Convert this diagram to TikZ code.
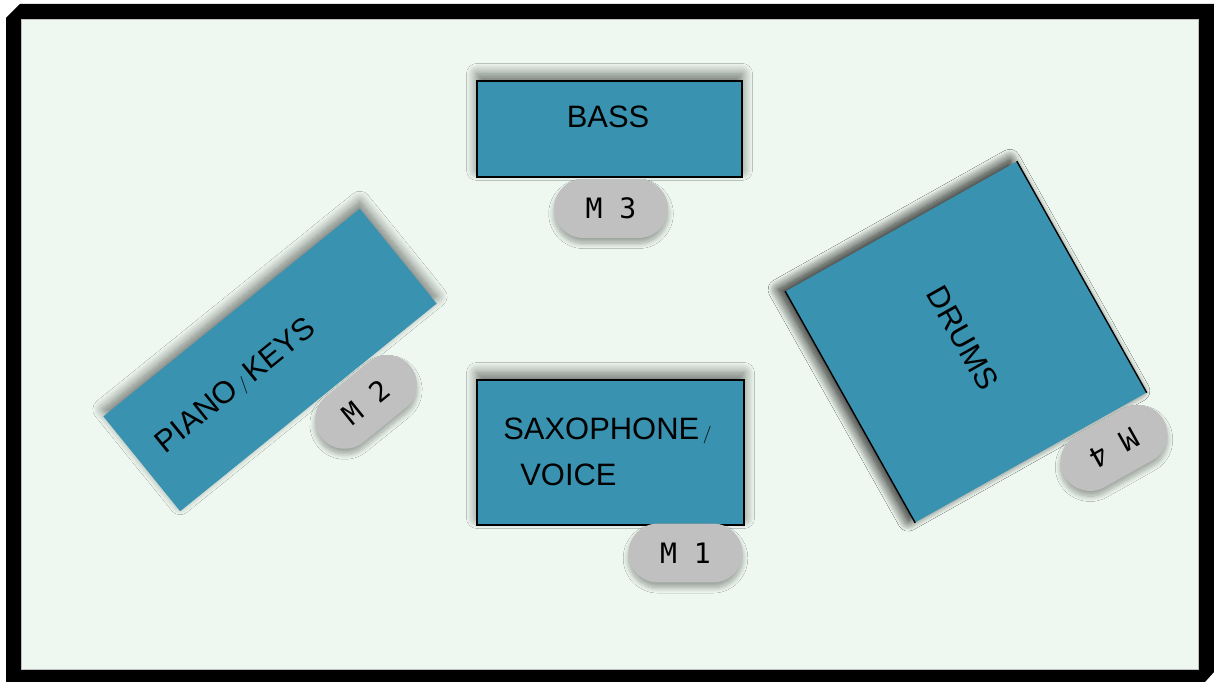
\documentclass[tikz,border=0pt]{standalone}
\usepackage{xcolor}
\usepackage{fontspec}
\setsansfont{Liberation Sans}
\newfontfamily\micfont{DejaVu Sans Mono}
\usepackage{tikz}
\usetikzlibrary{positioning, shapes, shadows.blur}
\definecolor{stageblue}{RGB}{57, 146, 176}
\definecolor{stagefloor}{RGB}{238, 248, 240}
\definecolor{micgray}{RGB}{192, 192, 192}
\newcommand{\thinslash}{\kern0.12em{\rmfamily\fontsize{10}{10}\selectfont/}\kern0.12em}

\tikzset{
  instrument/.style={fill=stageblue, inner sep=0pt,
    blur shadow={shadow xshift=0pt, shadow yshift=4pt, shadow blur radius=6pt, shadow blur steps=16, shadow opacity=55}},
  mic/.style={rounded rectangle, fill=micgray, minimum width=2.28cm, minimum height=1.18cm, inner sep=0pt,
    font=\micfont\fontsize{16}{16}\selectfont,
    blur shadow={shadow xshift=0pt, shadow yshift=-3pt, shadow blur radius=3pt, shadow blur steps=12, shadow opacity=35}},
  tag/.style={font=\sffamily\fontsize{17.6}{26}\selectfont, inner sep=0pt}
}

\begin{document}
\begin{tikzpicture}[x=0.02cm, y=-0.02cm]
\useasboundingbox (0,0) rectangle (1214,682);

% Draw the stage frame
\fill[black] (6,18) -- (20,4) -- (1214,4) -- (1214,672) -- (1205,682) -- (6,682) -- cycle;
\fill[stagefloor, draw=black!25, line width=0.3pt] (21,19) rectangle (1198,669);

% Bass
\node[instrument, draw=black, line width=0.8pt, minimum width=5.3cm, minimum height=1.92cm] (bass) at (609.5,129) {};
\node[tag] (bass-text) at (608,117) {BASS};
\node[mic] (m3) at (611,208.5) {M 3};

% Saxophone / voice
\node[instrument, draw=black, line width=0.8pt, minimum width=5.34cm, minimum height=2.9cm] (sax) at (610.5,452.5) {};
\node[tag, anchor=base west] (sax-text) at (503,439) {SAXOPHONE\thinslash};
\node[tag, anchor=base west] (voice-text) at (520,485) {VOICE};
\node[mic] (m1) at (685.5,553) {M 1};

% Piano / keys
\node[instrument, rotate=39, minimum width=6.6cm, minimum height=2.44cm] (piano) at (270,360) {};
\node[tag, rotate=39] (piano-text) at (236,386) {PIANO\thinslash KEYS};
\node[mic, rotate=39] (m2) at (366,402) {M 2};

% Drums
\node[instrument, rotate=29.3, minimum width=5.3cm, minimum height=5.3cm,
  blur shadow={shadow xshift=-4pt, shadow yshift=1pt, shadow blur radius=6pt, shadow blur steps=16, shadow opacity=55}] (drums) at (966,342) {};
\draw[line width=0.8pt] (drums.north west) -- (drums.south west);
\draw[line width=0.8pt] (drums.north east) -- (drums.south east);
\node[tag, rotate=-60.7] (drums-text) at (963,338) {DRUMS};
\node[mic, rotate=209.3] (m4) at (1114,448) {M 4};
\end{tikzpicture}
\end{document}
